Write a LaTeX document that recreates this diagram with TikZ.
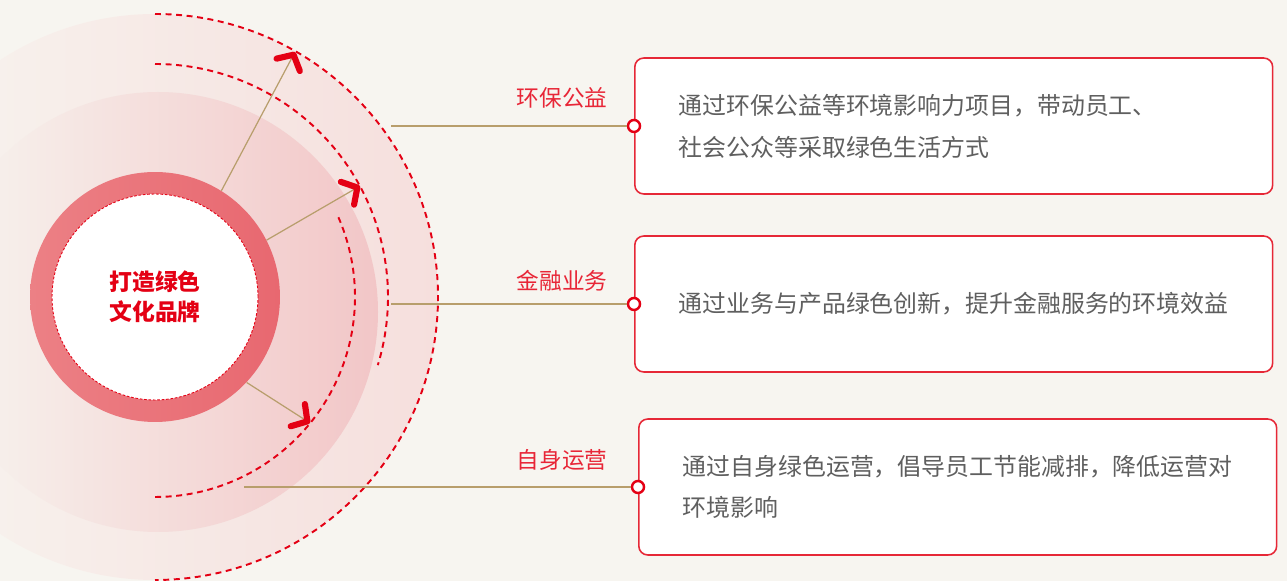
\documentclass[tikz,border=0pt]{standalone}
\usepackage{fontspec}
\setmainfont{Noto Sans CJK SC}
\usetikzlibrary{arrows.meta}
\definecolor{hinter}{RGB}{247,245,240}
\definecolor{rot}{RGB}{228,0,20}
\definecolor{rahmen}{RGB}{230,40,55}
\definecolor{gold}{RGB}{184,158,108}
\definecolor{grau}{RGB}{95,95,95}
\definecolor{rosaA}{RGB}{246,223,221}
\definecolor{rosaB}{RGB}{242,198,199}
\definecolor{ringL}{RGB}{236,128,133}
\definecolor{ringR}{RGB}{232,104,112}

\begin{document}
\begin{tikzpicture}[x=0.02cm, y=0.02cm,
    bogen/.style={draw=rot, line width=1.1pt, dash pattern=on 3.4pt off 2.6pt},
    pfeil/.style={draw=gold, line width=0.7pt,
      -{Straight Barb[color=rot, line width=3.5pt, length=6.5pt, width=15pt, round]}},
    linie/.style={draw=gold, line width=0.8pt},
    ring/.style={circle, minimum size=5cm, inner sep=0pt, left color=ringL, right color=ringR},
    kern/.style={circle, minimum size=4.12cm, inner sep=0pt, fill=white, draw=rot,
      line width=0.5pt, dash pattern=on 1.5pt off 1pt, text=rot, align=center,
      font=\fontsize{13pt}{17pt}\selectfont\bfseries},
    kasten/.style={draw=rahmen, line width=0.9pt, fill=white, rounded corners=0.18cm,
      minimum height=2.72cm, text width=11cm, inner xsep=0.88cm, align=left,
      anchor=west, text=grau, font=\fontsize{13.6pt}{23.8pt}\selectfont},
    punkt/.style={circle, draw=rot, fill=white, line width=1.4pt, minimum size=0.24cm, inner sep=0pt},
    marke/.style={text=rot!85!white, font=\fontsize{12.9pt}{15pt}\selectfont}]
    % Hintergrund
    \useasboundingbox (0,0) rectangle (1287,581);
    \fill[hinter] (0,0) rectangle (1287,581);
    \clip (0,0) rectangle (1287,581);
    \coordinate (C) at (155,284);
    \coordinate (M) at (158,269);
    % Flaechen
    \shade[left color=hinter, right color=rosaA] (C) circle (283);
    \shade[left color=hinter, right color=rosaB] (M) circle (220);
    % Boegen
    \draw[bogen] (C) ++(90:283) arc (90:-90:283);
    \draw[bogen] (C) ++(90:233) arc (90:-17:233);
    \draw[bogen] (C) ++(23.5:200) arc (23.5:-90:200);
    % Kreis in der Mitte
    \node[ring] (ring) at (C) {};
    \node[kern] (kern) at (C) {打造绿色\\文化品牌};
    % Pfeile
    \coordinate (p1) at (295,529);
    \coordinate (p2) at (360,395);
    \coordinate (p3) at (310,158);
    \draw[pfeil] (ring.58) -- (p1);
    \draw[pfeil] (ring.27) -- (p2);
    \draw[pfeil] (ring.-43) -- (p3);
    % Kaesten
    \node[kasten] (k1) at (634,455) {通过环保公益等环境影响力项目，带动员工、\\社会公众等采取绿色生活方式};
    \node[kasten] (k2) at (634,277) {通过业务与产品绿色创新，提升金融服务的环境效益};
    \node[kasten] (k3) at (638,94) {通过自身绿色运营，倡导员工节能减排，降低运营对\\环境影响};
    % Linien
    \coordinate (s1) at (391,455);
    \coordinate (s2) at (391,277);
    \coordinate (s3) at (244,94);
    \node[punkt] (d1) at (k1.west) {};
    \node[punkt] (d2) at (k2.west) {};
    \node[punkt] (d3) at (k3.west) {};
    \draw[linie] (s1) -- (d1);
    \draw[linie] (s2) -- (d2);
    \draw[linie] (s3) -- (d3);
    % Beschriftung
    \node[marke] (m1) at (562,483) {环保公益};
    \node[marke] (m2) at (562,300) {金融业务};
    \node[marke] (m3) at (562,121) {自身运营};
\end{tikzpicture}
\end{document}
